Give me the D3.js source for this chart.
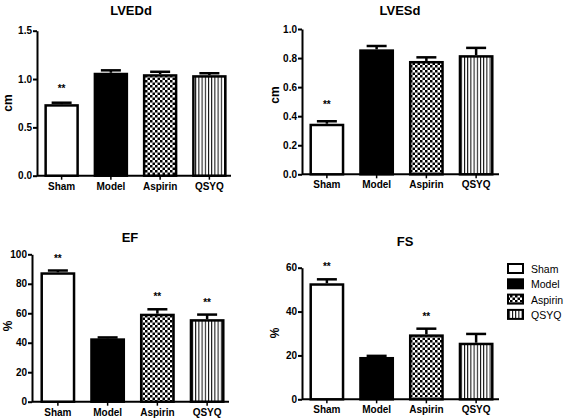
<!DOCTYPE html>
<html><head><meta charset="utf-8">
<script src="https://cdn.jsdelivr.net/npm/d3@7"></script>
<style>
body{margin:0;background:#fff;}
text{font-family:"Liberation Sans",Arial,sans-serif;}
</style></head>
<body>
<svg id="c" width="567" height="420"></svg>
<script>
const categories = ["Sham","Model","Aspirin","QSYQ"];
const lvedd = [0.74, 1.065, 1.05, 1.04];
const lveddErr = [0.015, 0.025, 0.025, 0.02];
const lvesd = [0.348, 0.86, 0.78, 0.82];
const lvesdErr = [0.017, 0.023, 0.025, 0.05];
const ef = [87.8, 43, 59.7, 56];
const efErr = [1.2, 0.6, 3.0, 3.1];
const fs = [52.9, 19.3, 29.6, 25.8];
const fsErr = [1.8, 0.5, 2.6, 4.0];
const lveddTicks = [0, 0.5, 1.0, 1.5];
const lvesdTicks = [0, 0.2, 0.4, 0.6, 0.8, 1.0];
const efTicks = [0, 20, 40, 60, 80, 100];
const fsTicks = [0, 20, 40, 60];
const lveddSig = [true, false, false, false];
const lvesdSig = [true, false, false, false];
const efSig = [true, false, true, true];
const fsSig = [true, false, true, false];

const svg = d3.select("#c");
const defs = svg.append("defs");
const chk = defs.append("pattern").attr("id","chk").attr("patternUnits","userSpaceOnUse")
  .attr("width",5).attr("height",5);
chk.append("rect").attr("width",5).attr("height",5).attr("fill","#fff");
chk.append("rect").attr("width",2.5).attr("height",2.5).attr("fill","#000");
chk.append("rect").attr("x",2.5).attr("y",2.5).attr("width",2.5).attr("height",2.5).attr("fill","#000");
const str = defs.append("pattern").attr("id","str").attr("patternUnits","userSpaceOnUse")
  .attr("width",3.2).attr("height",10);
str.append("rect").attr("width",3.2).attr("height",10).attr("fill","#fff");
str.append("rect").attr("x",0).attr("width",1).attr("height",10).attr("fill","#000");

const fills = ["#fff","#000","url(#chk)","url(#str)"];

function panel(o){
  const g = svg.append("g");
  const y = d3.scaleLinear().domain([0, o.max]).range([o.y0, o.y1]);
  const x = d3.scaleBand().domain(categories).range([o.bx0, o.bx1]).paddingInner(0.3).paddingOuter(0.15);
  const ya = g.append("g").attr("transform",`translate(${o.ax},0)`)
    .call(d3.axisLeft(y).tickValues(o.ticks).tickSize(4).tickSizeOuter(0).tickFormat(o.fmt));
  ya.select(".domain").attr("stroke","#000").attr("stroke-width",2);
  ya.selectAll(".tick line").attr("stroke","#000").attr("stroke-width",2);
  ya.selectAll(".tick text").attr("font-size",10).attr("font-weight","bold").attr("fill","#000").attr("x",-5);
  const xa = g.append("g").attr("transform",`translate(0,${o.y0})`)
    .call(d3.axisBottom(x).tickSize(4).tickSizeOuter(0));
  xa.select(".domain").attr("d",`M${o.ax},0H${o.xend}`).attr("stroke","#000").attr("stroke-width",2);
  xa.selectAll(".tick line").attr("stroke","#000").attr("stroke-width",1.5);
  xa.selectAll(".tick text").attr("font-size",10).attr("font-weight","bold").attr("fill","#000").attr("y",7);
  const cw = 20;
  o.vals.forEach((v,i)=>{
    const cx = x(categories[i]) + x.bandwidth()/2;
    g.append("line").attr("x1",cx).attr("x2",cx).attr("y1",y(v)).attr("y2",y(v+o.err[i]))
      .attr("stroke","#000").attr("stroke-width",2.5);
    g.append("line").attr("x1",cx-cw/2).attr("x2",cx+cw/2).attr("y1",y(v+o.err[i])).attr("y2",y(v+o.err[i]))
      .attr("stroke","#000").attr("stroke-width",2.5);
  });
  g.selectAll("rect.bar").data(o.vals).join("rect").attr("class","bar")
    .attr("x",(d,i)=>x(categories[i])+1.25).attr("width",x.bandwidth()-2.5)
    .attr("y",d=>y(d)+1.25).attr("height",d=>y(0)-y(d)-1.25)
    .attr("fill",(d,i)=>fills[i]).attr("stroke","#000").attr("stroke-width",2.5);
  o.vals.forEach((v,i)=>{
    if(!o.sig[i]) return;
    const cx = x(categories[i]) + x.bandwidth()/2;
    g.append("text").attr("x",cx).attr("y",y(v+o.err[i])-o.starGap).attr("text-anchor","middle")
      .attr("font-size",10).attr("font-weight","bold").text("**");
  });
  g.append("text").attr("x",o.tx).attr("y",o.ty).attr("text-anchor","middle")
    .attr("font-size",13).attr("font-weight","bold").text(o.title);
  g.append("text").attr("transform",`translate(${o.lx},${o.ly}) rotate(-90)`).attr("text-anchor","middle")
    .attr("font-size",12).attr("font-weight","bold").text(o.ylabel);
}

const f1 = d3.format(".1f");
const f0 = d3.format("d");
panel({title:"LVEDd",vals:lvedd,err:lveddErr,sig:lveddSig,max:1.5,ticks:lveddTicks,fmt:f1,
  ax:37,y0:175.7,y1:30.7,bx0:37,bx1:234,xend:231,tx:131,ty:14.5,lx:12,ly:103,ylabel:"cm",starGap:11});
panel({title:"LVESd",vals:lvesd,err:lvesdErr,sig:lvesdSig,max:1.0,ticks:lvesdTicks,fmt:f1,
  ax:302,y0:174.3,y1:29,bx0:302,bx1:501,xend:499,tx:400,ty:14.5,lx:279,ly:95,ylabel:"cm",starGap:13});
panel({title:"EF",vals:ef,err:efErr,sig:efSig,max:100,ticks:efTicks,fmt:f0,
  ax:32,y0:401.7,y1:254.3,bx0:33,bx1:232,xend:229,tx:130,ty:242,lx:12,ly:326,ylabel:"%",starGap:9});
panel({title:"FS",vals:fs,err:fsErr,sig:fsSig,max:60,ticks:fsTicks,fmt:f0,
  ax:302,y0:399.3,y1:267.7,bx0:302,bx1:501,xend:499,tx:405,ty:246,lx:279,ly:333,ylabel:"%",starGap:9});

const lg = svg.append("g");
categories.forEach((c,i)=>{
  const yy = 263 + i*15.3;
  lg.append("rect").attr("x",508).attr("y",yy+1).attr("width",15).attr("height",9)
    .attr("fill",fills[i]).attr("stroke","#000").attr("stroke-width",2);
  lg.append("text").attr("x",531).attr("y",yy+10).attr("font-size",10.5).text(c);
});
</script>
</body></html>
